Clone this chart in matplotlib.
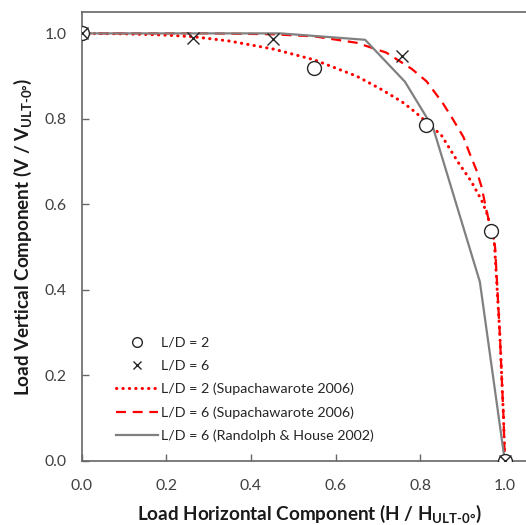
import matplotlib
matplotlib.use("Agg")
import matplotlib.pyplot as plt

plt.rcParams['font.family'] = ['Lato', 'DejaVu Sans']
plt.rcParams['mathtext.fontset'] = 'custom'
plt.rcParams['mathtext.rm'] = 'Lato'
plt.rcParams['mathtext.bf'] = 'Lato:bold'

# Test data: L/D = 2
h_ld2 = [0.0, 0.549, 0.813, 0.967, 1.0]
v_ld2 = [1.0, 0.918, 0.785, 0.538, 0.0]
# Test data: L/D = 6
h_ld6 = [0.0, 0.264, 0.453, 0.758, 1.0]
v_ld6 = [1.0, 0.990, 0.986, 0.947, 0.0]

# Supachawarote 2006, L/D = 2
h_sup2 = [0.0, 0.10, 0.20, 0.266, 0.35, 0.455, 0.55, 0.65, 0.71, 0.757, 0.787,
          0.85, 0.89, 0.92, 0.945, 0.958, 0.968, 0.975, 0.988, 0.997, 1.0]
v_sup2 = [1.0, 0.999, 0.996, 0.992, 0.982, 0.963, 0.938, 0.900, 0.868, 0.840, 0.817,
          0.762, 0.698, 0.655, 0.610, 0.578, 0.540, 0.515, 0.300, 0.100, 0.0]
# Supachawarote 2006, L/D = 6
h_sup6 = [0.0, 0.30, 0.45, 0.55, 0.65, 0.72, 0.78, 0.815, 0.854, 0.878, 0.902,
          0.917, 0.933, 0.945, 0.957, 0.968, 0.977, 0.988, 0.997, 1.0]
v_sup6 = [1.0, 1.0, 0.998, 0.993, 0.978, 0.955, 0.917, 0.888, 0.836, 0.798, 0.758,
          0.719, 0.680, 0.641, 0.584, 0.540, 0.500, 0.300, 0.100, 0.0]
# Randolph & House 2002, L/D = 6
h_rh = [0.0, 0.47, 0.67, 0.764, 0.831, 0.941, 1.0]
v_rh = [1.0, 1.0, 0.985, 0.887, 0.778, 0.419, 0.0]

ticks = [0.0, 0.2, 0.4, 0.6, 0.8, 1.0]
tick_labels = ["0.0", "0.2", "0.4", "0.6", "0.8", "1.0"]

fig = plt.figure(figsize=(5.26, 5.25), dpi=100)
ax = fig.add_axes([81.5/526, 64/525, (526-81.5)/526, (461-12)/525])

ax.plot(h_sup2, v_sup2, color='#FF0000', lw=2.2, linestyle=(0, (0.1, 2.0)),
        dash_capstyle='round', label='L/D = 2 (Supachawarote 2006)', zorder=2)
ax.plot(h_sup6, v_sup6, color='#FF0000', lw=1.6, linestyle=(0, (4.5, 3.0)),
        label='L/D = 6 (Supachawarote 2006)', zorder=2)
ax.plot(h_rh, v_rh, color='#808080', lw=1.6, label='L/D = 6 (Randolph & House 2002)', zorder=3)
ax.plot(h_ld2, v_ld2, linestyle='none', marker='o', ms=10, mfc='white', mec='#262626',
        mew=1.0, label='L/D = 2', zorder=4)
ax.plot(h_ld6, v_ld6, linestyle='none', marker='x', ms=9, mec='#262626',
        mew=1.0, label='L/D = 6', zorder=5)

ax.set_xlim(0, 1.05)
ax.set_ylim(0, 1.05)
ax.set_xticks(ticks)
ax.set_xticklabels(tick_labels)
ax.set_yticks(ticks)
ax.set_yticklabels(tick_labels)
ax.tick_params(direction='in', length=5, width=1.0, color='#666666', labelsize=11.3,
               labelcolor='#404040')
ax.tick_params(axis='x', pad=13)
ax.tick_params(axis='y', pad=10.5)
for side in ['left', 'bottom', 'top']:
    ax.spines[side].set_color('#666666')
    ax.spines[side].set_linewidth(1.2)
ax.spines['right'].set_visible(False)

ax.set_xlabel(r'Load Horizontal Component (H / H$_{\mathbf{ULT‐0°}}$)',
              fontsize=13.6, fontweight='bold', color='#1a1a1a')
ax.set_ylabel(r'Load Vertical Component (V / V$_{\mathbf{ULT‐0°}}$)',
              fontsize=13.6, fontweight='bold', color='#1a1a1a')
ax.xaxis.set_label_coords(0.512, -0.093)
ax.yaxis.set_label_coords(-0.107, 0.50)

handles, labels = ax.get_legend_handles_labels()
order = [3, 4, 0, 1, 2]
leg = ax.legend([handles[i] for i in order], [labels[i] for i in order],
                loc='lower left', bbox_to_anchor=(0.049, 0.013), frameon=False,
                fontsize=10.3, handlelength=2.9, handletextpad=0.2, labelspacing=0.77,
                markerscale=0.7)
for t in leg.get_texts():
    t.set_color('#262626')

fig.savefig('out.png', dpi=100)
